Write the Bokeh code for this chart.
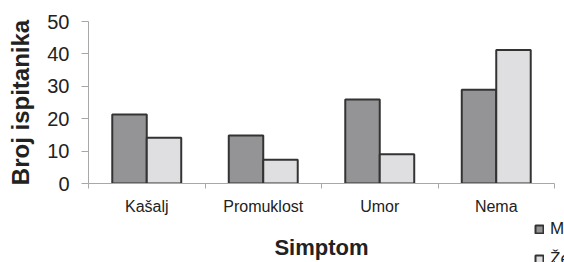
from bokeh.plotting import figure
from bokeh.models import FixedTicker, Legend, LegendItem, ColumnDataSource
from bokeh.layouts import column
from bokeh.embed import file_html
from bokeh.resources import INLINE

categories = ["Kašalj", "Promuklost", "Umor", "Nema"]
muskarci = [21.3, 14.8, 25.9, 28.9]
zene = [14.1, 7.3, 9.0, 41.2]
series_names = ["Muškarci", "Žene"]
y_ticks = [0, 10, 20, 30, 40, 50]

FONT = "Liberation Sans"
DARK_FILL = "#949497"
LIGHT_FILL = "#dfdfe1"
EDGE = "#333333"
centers = [i + 0.5 for i in range(len(categories))]
bw = 0.296

src = ColumnDataSource(dict(
    xm=[c - bw / 2 for c in centers],
    xz=[c + bw / 2 for c in centers],
    m=muskarci, z=zene,
))

p = figure(width=564, height=262, output_backend="svg", toolbar_location=None,
           x_range=(0, len(categories)), y_range=(0, 50),
           min_border_left=88, min_border_right=10, min_border_top=21,
           min_border_bottom=0)
p.outline_line_color = None
p.grid.grid_line_color = None
p.background_fill_color = "white"
p.border_fill_color = "white"

r1 = p.vbar(x="xm", top="m", width=bw, source=src, fill_color=DARK_FILL,
            line_color=EDGE, line_width=2)
r2 = p.vbar(x="xz", top="z", width=bw, source=src, fill_color=LIGHT_FILL,
            line_color=EDGE, line_width=2)

# x axis
xa = p.xaxis[0]
xa.ticker = FixedTicker(ticks=centers, minor_ticks=list(range(len(categories) + 1)))
xa.major_label_overrides = {c: cat for c, cat in zip(centers, categories)}
xa.major_tick_line_color = None
xa.major_tick_out = 0
xa.major_tick_in = 0
xa.minor_tick_in = 0
xa.minor_tick_out = 5
xa.minor_tick_line_color = "#a8a8a8"
xa.axis_line_color = "#a8a8a8"
xa.major_label_text_font = FONT
xa.major_label_text_font_size = "16px"
xa.major_label_text_color = "#222222"
xa.major_label_standoff = 9
xa.axis_label = "Simptom"
xa.axis_label_text_font = FONT
xa.axis_label_text_font_size = "22px"
xa.axis_label_text_font_style = "bold"
xa.axis_label_text_color = "#222222"
xa.axis_label_standoff = 17

# y axis
ya = p.yaxis[0]
ya.ticker = FixedTicker(ticks=y_ticks, minor_ticks=[])
ya.axis_line_color = "#a8a8a8"
ya.major_tick_line_color = "#a8a8a8"
ya.major_tick_in = 0
ya.major_tick_out = 7
ya.minor_tick_line_color = None
ya.major_label_text_font = FONT
ya.major_label_text_font_size = "20px"
ya.major_label_text_color = "#222222"
ya.major_label_standoff = 12
ya.axis_label = "Broj ispitanika"
ya.axis_label_text_font = FONT
ya.axis_label_text_font_size = "24px"
ya.axis_label_text_font_style = "bold"
ya.axis_label_text_color = "#222222"
ya.axis_label_standoff = 10

# legend: a small transparent figure overlapping the bottom-right corner
leg_fig = figure(width=30, height=43, output_backend="svg", toolbar_location=None,
                 x_range=(100, 101), y_range=(100, 101),
                 min_border_left=0, min_border_right=0, min_border_top=0,
                 min_border_bottom=0, margin=(-43, 0, 0, 534))
leg_fig.axis.visible = False
leg_fig.grid.visible = False
leg_fig.outline_line_color = None
leg_fig.background_fill_alpha = 0
leg_fig.border_fill_alpha = 0
lr1 = leg_fig.vbar(x="xm", top="m", width=bw, source=src, fill_color=DARK_FILL,
                   line_color=EDGE, line_width=2)
lr2 = leg_fig.vbar(x="xz", top="z", width=bw, source=src, fill_color=LIGHT_FILL,
                   line_color=EDGE, line_width=2)
legend = Legend(items=[LegendItem(label=series_names[0], renderers=[lr1]),
                       LegendItem(label=series_names[1], renderers=[lr2])],
                location="top_left", orientation="vertical",
                glyph_width=10, glyph_height=10, label_height=20, spacing=10,
                padding=0, margin=0, label_standoff=6,
                border_line_color=None, background_fill_alpha=0,
                label_text_font=FONT, label_text_font_size="17px",
                label_text_color="#222222")
leg_fig.add_layout(legend, "center")

layout = column(p, leg_fig, spacing=0)
open("out.html", "w").write(file_html(layout, INLINE))
